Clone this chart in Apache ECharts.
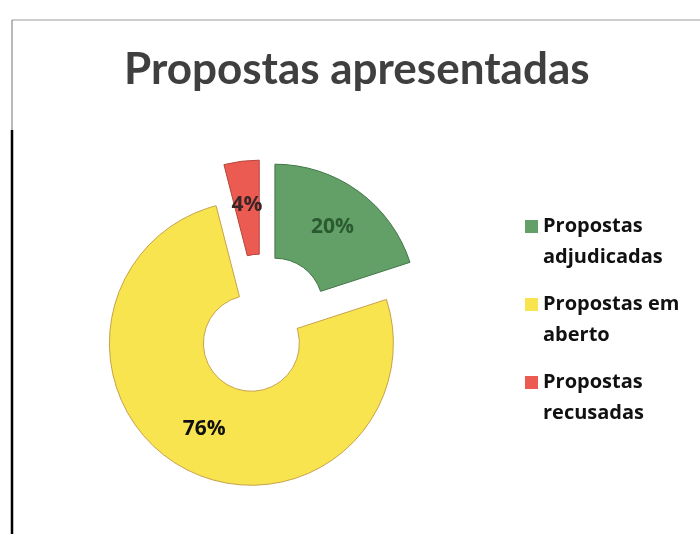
<!DOCTYPE html>
<html>
<head>
<meta charset="utf-8">
<script src="https://cdn.jsdelivr.net/npm/echarts@6/dist/echarts.min.js"></script>
<style>
  html, body { margin: 0; padding: 0; background: #fff; }
  #chart { width: 700px; height: 534px; }
</style>
</head>
<body>
<div id="chart"></div>
<script>
// Proposal status breakdown (percent of all proposals submitted)
var categories = ['Propostas adjudicadas', 'Propostas em aberto', 'Propostas recusadas'];
var shares = [20, 76, 4];
var sliceColors = ['#62a067', '#f7e44e', '#ec5b52'];
var sliceBorders = ['#3f7445', '#c9a24a', '#b5453c'];
var labelColors = ['#2b5a30', '#111111', '#3a2626'];
var chartTitle = 'Propostas apresentadas';

// legend entries break before the last word
function twoLines(name) {
  var i = name.lastIndexOf(' ');
  return name.slice(0, i) + '\n' + name.slice(i + 1);
}

// square marker sitting beside the first of two text lines (box is 13 x 62)
var legendMarker = 'path://M0,0L0,0M0,62L0,62M0,9L13,9L13,22L0,22Z';

var chart = echarts.init(document.getElementById('chart'));

chart.setOption({
  backgroundColor: '#ffffff',
  animation: false,
  title: {
    text: chartTitle,
    left: 119,
    top: 43,
    textStyle: {
      fontFamily: 'Lato',
      fontWeight: 'bold',
      fontSize: 44,
      color: '#3f3f3f'
    }
  },
  legend: {
    orient: 'vertical',
    left: 520,
    top: 206,
    icon: legendMarker,
    itemWidth: 13,
    itemHeight: 62,
    itemGap: 16,
    selectedMode: false,
    data: categories,
    formatter: twoLines,
    itemStyle: { borderWidth: 0 },
    textStyle: {
      fontFamily: 'Open Sans',
      fontWeight: 'bold',
      fontSize: 20,
      lineHeight: 31,
      color: '#111111'
    }
  },
  graphic: [
    { type: 'line', shape: { x1: 12, y1: 20, x2: 700, y2: 20 }, style: { stroke: '#9a9a9a', lineWidth: 1 } },
    { type: 'line', shape: { x1: 12, y1: 20, x2: 12, y2: 130 }, style: { stroke: '#a0a0a0', lineWidth: 1.5 } },
    { type: 'line', shape: { x1: 12, y1: 130, x2: 12, y2: 534 }, style: { stroke: '#000000', lineWidth: 2.5 } }
  ],
  series: [{
    type: 'pie',
    center: [262, 324],
    radius: [48, 142],
    startAngle: 90,
    clockwise: true,
    selectedMode: 'multiple',
    selectedOffset: 22,
    avoidLabelOverlap: false,
    label: {
      show: true,
      position: 'inside',
      fontFamily: 'Open Sans',
      fontWeight: 'bold',
      fontSize: 21,
      formatter: '{c}%'
    },
    labelLine: { show: false },
    emphasis: { disabled: true },
    data: categories.map(function (name, i) {
      return {
        name: name,
        value: shares[i],
        selected: true,
        itemStyle: { color: sliceColors[i], borderColor: sliceBorders[i], borderWidth: 1 },
        select: { itemStyle: { color: sliceColors[i], borderColor: sliceBorders[i], borderWidth: 1 } },
        label: { color: labelColors[i] }
      };
    })
  }]
});
</script>
</body>
</html>
